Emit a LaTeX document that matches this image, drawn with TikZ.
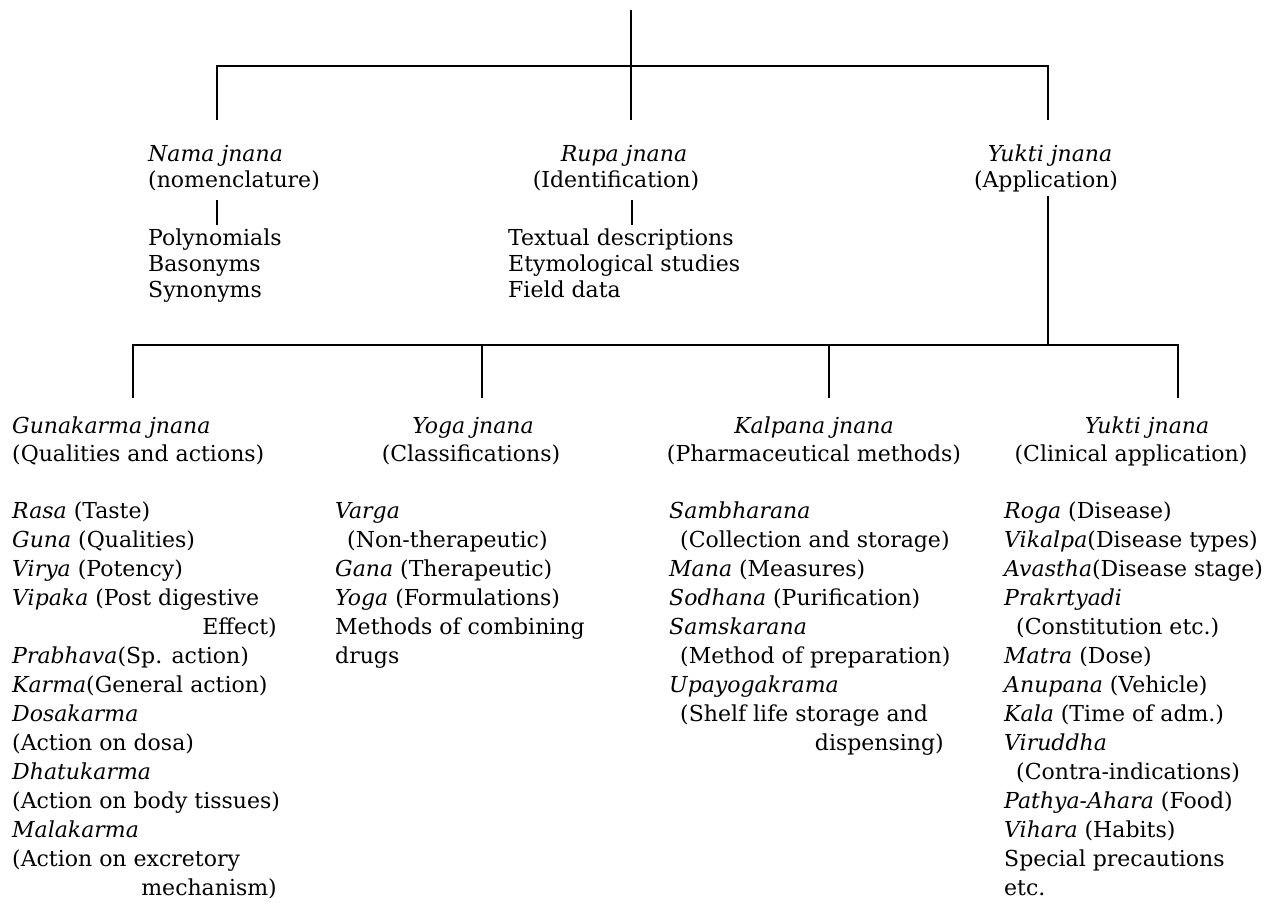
\documentclass[tikz,border=0pt]{standalone}
\usepackage{fontspec}
\setmainfont{DejaVu Serif}
\begin{document}
\begin{tikzpicture}[x=1pt,y=-1pt,
  txt/.style={inner sep=0pt, font=\fontsize{22}{26}\selectfont},
  lw/.style={txt, anchor=base west},
  le/.style={txt, anchor=base east},
  lc/.style={txt, anchor=base},
  conn/.style={line width=1.8pt, line cap=butt}]
\useasboundingbox (0,0) rectangle (1269,905);

% ---------- connectors, upper level ----------
\coordinate (t0) at (631,10);
\coordinate (t1) at (631,66);
\coordinate (a1) at (217,66);
\coordinate (a2) at (217,120);
\coordinate (r2) at (631,120);
\coordinate (c1) at (1048,66);
\coordinate (c2) at (1048,120);
\draw[conn] (t0) -- (t1);
\draw[conn] (a2) -- (a1) -- (c1) -- (c2);
\draw[conn] (t1) -- (r2);

% ---------- upper headings ----------
\node[lw] (nama) at (148,161) {\textit{Nama jnana}};
\node[lw] (namab) at (148,187) {(nomenclature)};
\node[lc] (rupa) at (624,161) {\textit{Rupa jnana}};
\node[lc] (rupab) at (616,187) {(Identification)};
\node[lc] (yuk) at (1050,161) {\textit{Yukti jnana}};
\node[lc] (yukb) at (1046,187) {(Application)};

\coordinate (n1) at (217,200);
\coordinate (n2) at (217,225);
\coordinate (p1) at (632,200);
\coordinate (p2) at (632,225);
\draw[conn] (n1) -- (n2);
\draw[conn] (p1) -- (p2);

\node[lw] (poly) at (148,245) {Polynomials};
\node[lw] (baso) at (148,271) {Basonyms};
\node[lw] (syno) at (148,297) {Synonyms};
\node[lw] (text) at (508,245) {Textual descriptions};
\node[lw] (etym) at (508,271) {Etymological studies};
\node[lw] (field) at (508,297) {Field data};

% ---------- connectors, lower level ----------
\coordinate (y1) at (1048,196);
\coordinate (y2) at (1048,345);
\coordinate (h1) at (133,345);
\coordinate (h4) at (1178,345);
\coordinate (d1) at (133,398);
\coordinate (h2) at (482,345);
\coordinate (d2) at (482,398);
\coordinate (h3) at (829,345);
\coordinate (d3) at (829,398);
\coordinate (d4) at (1178,398);
\draw[conn] (y1) -- (y2);
\draw[conn] (d1) -- (h1) -- (h4) -- (d4);
\draw[conn] (h2) -- (d2);
\draw[conn] (h3) -- (d3);

% ---------- lower headings ----------
\node[lw] (guna) at (12,433) {\textit{Gunakarma jnana}};
\node[lw] (gunab) at (12,461) {(Qualities and actions)};
\node[lc] (yoga) at (473,433) {\textit{Yoga jnana}};
\node[lc] (yogab) at (471,461) {(Classifications)};
\node[lc] (kalp) at (814,433) {\textit{Kalpana jnana}};
\node[lc] (kalpb) at (814,461) {(Pharmaceutical methods)};
\node[lc] (yk2) at (1147,433) {\textit{Yukti jnana}};
\node[lc] (yk2b) at (1131,461) {(Clinical application)};

% ---------- Gunakarma list ----------
\node[lw] (g1) at (12,518.0) {\textit{Rasa} (Taste)};
\node[lw] (g2) at (12,547.0) {\textit{Guna} (Qualities)};
\node[lw] (g3) at (12,576.0) {\textit{Virya} (Potency)};
\node[lw] (g4) at (12,605.0) {\textit{Vipaka} (Post digestive};
\node[le] (g5) at (277,634.0) {Effect)};
\node[lw] (g6) at (12,663.0) {\textit{Prabhava}(Sp. action)};
\node[lw] (g7) at (12,692.0) {\textit{Karma}(General action)};
\node[lw] (g8) at (12,721.0) {\textit{Dosakarma}};
\node[lw] (g9) at (12,750.0) {(Action on dosa)};
\node[lw] (g10) at (12,779.0) {\textit{Dhatukarma}};
\node[lw] (g11) at (12,808.0) {(Action on body tissues)};
\node[lw] (g12) at (12,837.0) {\textit{Malakarma}};
\node[lw] (g13) at (12,866.0) {(Action on excretory};
\node[le] (g14) at (277,895.0) {mechanism)};

% ---------- Yoga list ----------
\node[lw] (o1) at (335,518.0) {\textit{Varga}};
\node[lw] (o2) at (347,547.0) {(Non-therapeutic)};
\node[lw] (o3) at (335,576.0) {\textit{Gana} (Therapeutic)};
\node[lw] (o4) at (335,605.0) {\textit{Yoga} (Formulations)};
\node[lw] (o5) at (335,634.0) {Methods of combining};
\node[lw] (o6) at (335,663.0) {drugs};

% ---------- Kalpana list ----------
\node[lw] (k1) at (669,518.0) {\textit{Sambharana}};
\node[lw] (k2) at (680,547.0) {(Collection and storage)};
\node[lw] (k3) at (669,576.0) {\textit{Mana} (Measures)};
\node[lw] (k4) at (669,605.0) {\textit{Sodhana} (Purification)};
\node[lw] (k5) at (669,634.0) {\textit{Samskarana}};
\node[lw] (k6) at (680,663.0) {(Method of preparation)};
\node[lw] (k7) at (669,692.0) {\textit{Upayogakrama}};
\node[lw] (k8) at (680,721.0) {(Shelf life storage and};
\node[le] (k9) at (944,750.0) {dispensing)};

% ---------- Yukti list ----------
\node[lw] (u1) at (1004,518.0) {\textit{Roga} (Disease)};
\node[lw] (u2) at (1004,547.0) {\textit{Vikalpa}(Disease types)};
\node[lw] (u3) at (1004,576.0) {\textit{Avastha}(Disease stage)};
\node[lw] (u4) at (1004,605.0) {\textit{Prakrtyadi}};
\node[lw] (u5) at (1016,634.0) {(Constitution etc.)};
\node[lw] (u6) at (1004,663.0) {\textit{Matra} (Dose)};
\node[lw] (u7) at (1004,692.0) {\textit{Anupana} (Vehicle)};
\node[lw] (u8) at (1004,721.0) {\textit{Kala} (Time of adm.)};
\node[lw] (u9) at (1004,750.0) {\textit{Viruddha}};
\node[lw] (u10) at (1016,779.0) {(Contra-indications)};
\node[lw] (u11) at (1004,808.0) {\textit{Pathya-Ahara} (Food)};
\node[lw] (u12) at (1004,837.0) {\textit{Vihara} (Habits)};
\node[lw] (u13) at (1004,866.0) {Special precautions};
\node[lw] (u14) at (1004,895.0) {etc.};
\end{tikzpicture}
\end{document}
